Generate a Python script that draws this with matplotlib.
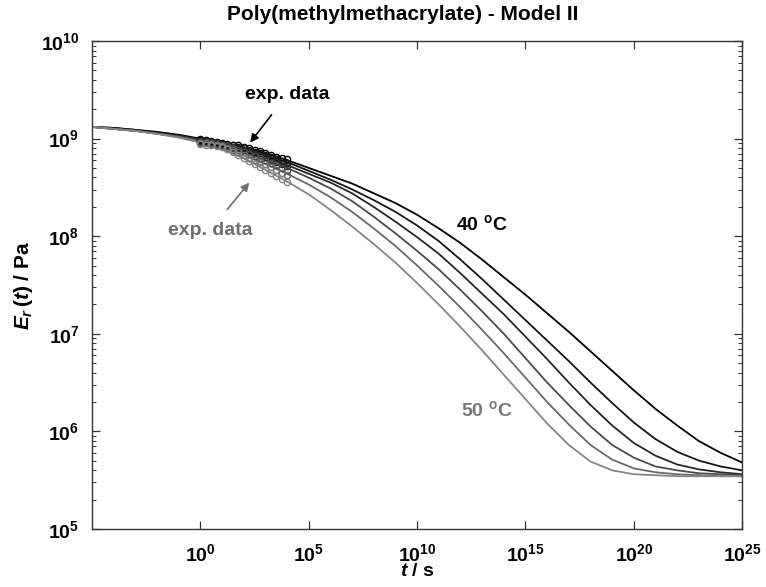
import numpy as np
import matplotlib
matplotlib.use("Agg")
import matplotlib.pyplot as plt
from matplotlib.ticker import FixedLocator, LogLocator, NullFormatter, LogFormatterMathtext

plt.rcParams['font.family'] = ['Liberation Sans', 'DejaVu Sans']
plt.rcParams['font.weight'] = 'bold'
plt.rcParams['mathtext.fontset'] = 'custom'
plt.rcParams['mathtext.rm'] = 'Liberation Sans:bold'
plt.rcParams['mathtext.it'] = 'Liberation Sans:bold:italic'
plt.rcParams['mathtext.bf'] = 'Liberation Sans:bold'

# ---- data (log10 values) ----
log_t = [-5, -4, -3, -2, -1, 0, 1, 2, 3, 4, 5, 6, 7, 8, 9, 10, 11, 12, 13, 14, 15,
         16, 17, 18, 19, 20, 21, 22, 23, 24, 25]
logE_40 = [9.12, 9.11, 9.09, 9.07, 9.04, 9.00, 8.96, 8.91, 8.85, 8.78, 8.70, 8.62, 8.54, 8.44, 8.34, 8.22,
           8.08, 7.93, 7.76, 7.58, 7.40, 7.21, 7.02, 6.82, 6.62, 6.42, 6.23, 6.06, 5.90, 5.78, 5.68]
logE_42 = [9.12, 9.11, 9.09, 9.06, 9.03, 8.99, 8.95, 8.90, 8.83, 8.76, 8.67, 8.58, 8.48, 8.37, 8.25, 8.11,
           7.95, 7.76, 7.56, 7.35, 7.14, 6.93, 6.72, 6.50, 6.29, 6.09, 5.92, 5.79, 5.70, 5.64, 5.60]
logE_44 = [9.12, 9.10, 9.08, 9.06, 9.03, 8.99, 8.94, 8.88, 8.81, 8.73, 8.64, 8.55, 8.44, 8.30, 8.15, 7.99,
           7.82, 7.62, 7.41, 7.20, 6.97, 6.74, 6.50, 6.27, 6.06, 5.88, 5.75, 5.66, 5.61, 5.58, 5.56]
logE_46 = [9.12, 9.10, 9.08, 9.05, 9.02, 8.98, 8.93, 8.86, 8.78, 8.70, 8.60, 8.49, 8.36, 8.20, 8.03, 7.85,
           7.66, 7.45, 7.23, 7.00, 6.75, 6.50, 6.27, 6.05, 5.86, 5.73, 5.64, 5.60, 5.57, 5.56, 5.55]
logE_48 = [9.12, 9.10, 9.08, 9.05, 9.02, 8.97, 8.91, 8.83, 8.74, 8.64, 8.53, 8.40, 8.25, 8.08, 7.90, 7.70,
           7.49, 7.27, 7.04, 6.80, 6.55, 6.30, 6.07, 5.86, 5.71, 5.62, 5.58, 5.56, 5.55, 5.54, 5.54]
logE_50 = [9.12, 9.10, 9.08, 9.05, 9.01, 8.96, 8.89, 8.80, 8.68, 8.56, 8.43, 8.27, 8.10, 7.92, 7.73, 7.52,
           7.30, 7.07, 6.83, 6.58, 6.33, 6.08, 5.86, 5.69, 5.60, 5.56, 5.55, 5.54, 5.54, 5.54, 5.54]

exp_log_t = [0, 0.25, 0.5, 0.75, 1, 1.25, 1.5, 1.75, 2, 2.25, 2.5, 2.75, 3, 3.25, 3.5, 3.75, 4]
exp_40 = [9.00, 8.99, 8.98, 8.97, 8.96, 8.95, 8.94, 8.93, 8.91, 8.90, 8.88, 8.87, 8.85, 8.83, 8.81, 8.80, 8.79]
exp_42 = [8.99, 8.98, 8.97, 8.96, 8.95, 8.94, 8.93, 8.91, 8.90, 8.88, 8.86, 8.85, 8.83, 8.81, 8.79, 8.77, 8.75]
exp_44 = [8.98, 8.97, 8.97, 8.96, 8.94, 8.93, 8.91, 8.90, 8.88, 8.86, 8.84, 8.82, 8.81, 8.78, 8.76, 8.74, 8.72]
exp_46 = [8.97, 8.97, 8.96, 8.95, 8.93, 8.92, 8.90, 8.88, 8.86, 8.84, 8.82, 8.80, 8.78, 8.75, 8.73, 8.70, 8.68]
exp_48 = [8.96, 8.96, 8.95, 8.94, 8.92, 8.90, 8.88, 8.86, 8.83, 8.80, 8.78, 8.76, 8.74, 8.71, 8.68, 8.65, 8.63]
exp_50 = [8.95, 8.94, 8.93, 8.92, 8.91, 8.89, 8.86, 8.83, 8.80, 8.77, 8.74, 8.71, 8.68, 8.65, 8.62, 8.59, 8.56]

model_curves = [logE_40, logE_42, logE_44, logE_46, logE_48, logE_50]
exp_curves = [exp_40, exp_42, exp_44, exp_46, exp_48, exp_50]
colors = ['#000000', '#151515', '#262626', '#4a4a4a', '#6a6a6a', '#858585']

x_ticks = [0, 5, 10, 15, 20, 25]
y_ticks = [5, 6, 7, 8, 9, 10]

fig = plt.figure(figsize=(7.66, 5.87), dpi=100)
ax = fig.add_axes([0.120, 0.099, 0.849, 0.831])

t = 10.0 ** np.array(log_t)
for logE, c in zip(model_curves, colors):
    ax.plot(t, 10.0 ** np.array(logE), color=c, lw=1.3, zorder=2)

te = 10.0 ** np.array(exp_log_t)
for logE, c in zip(exp_curves, colors):
    ax.plot(te, 10.0 ** np.array(logE), ls='none', marker='o', ms=4.5,
            mfc='none', mec=c, mew=1.0, zorder=3)

ax.set_xscale('log')
ax.set_yscale('log')
ax.set_xlim(1e-5, 1e25)
ax.set_ylim(1e5, 1e10)

ax.xaxis.set_major_locator(FixedLocator([10.0 ** k for k in x_ticks]))
ax.xaxis.set_minor_locator(FixedLocator([]))
ax.xaxis.set_major_formatter(LogFormatterMathtext())
ax.yaxis.set_major_locator(FixedLocator([10.0 ** k for k in y_ticks]))
ax.yaxis.set_minor_locator(LogLocator(base=10, subs=np.arange(2, 10), numticks=50))
ax.yaxis.set_minor_formatter(NullFormatter())
ax.yaxis.set_major_formatter(LogFormatterMathtext())

ax.tick_params(which='both', direction='in', top=True, right=True, color='#333333')
ax.tick_params(which='major', length=6, width=0.9, labelsize=14)
ax.tick_params(axis='x', which='major', pad=10)
ax.tick_params(axis='y', which='major', pad=9)
ax.tick_params(which='minor', length=3, width=0.7)
for s in ax.spines.values():
    s.set_color('#333333')
    s.set_linewidth(1.0)

ax.set_title('Poly(methylmethacrylate) - Model II', fontsize=15, fontweight='bold',
             x=0.478, pad=15)
ax.set_xlabel(r'$\mathit{t}$ / s', fontsize=14, fontweight='bold', labelpad=-1)
ax.set_ylabel(r'$\mathit{E}_{\mathit{r}}\,(\mathit{t})$ / Pa', fontsize=15, fontweight='bold', labelpad=4)

ax.annotate('exp. data', xy=(10 ** 2.3, 10 ** 8.96), xytext=(10 ** 4.0, 10 ** 9.45),
            fontsize=14, fontweight='bold', color='black', ha='center', va='center',
            arrowprops=dict(arrowstyle='-|>', color='black', lw=1.2, mutation_scale=12,
                            shrinkA=8, shrinkB=0))
ax.annotate('exp. data', xy=(10 ** 2.26, 10 ** 8.55), xytext=(10 ** 0.45, 10 ** 8.06),
            fontsize=14, fontweight='bold', color='#6e6e6e', ha='center', va='center',
            arrowprops=dict(arrowstyle='-|>', color='#6e6e6e', lw=1.2, mutation_scale=12,
                            shrinkA=9, shrinkB=0))
ax.text(10 ** 13.0, 10 ** 8.13, '40 $^{\\mathrm{o}}$C', fontsize=14, fontweight='bold',
        color='black', ha='center', va='center')
ax.text(10 ** 13.2, 10 ** 6.22, '50 $^{\\mathrm{o}}$C', fontsize=14, fontweight='bold',
        color='#777777', ha='center', va='center')

fig.savefig('out.png', dpi=100)
